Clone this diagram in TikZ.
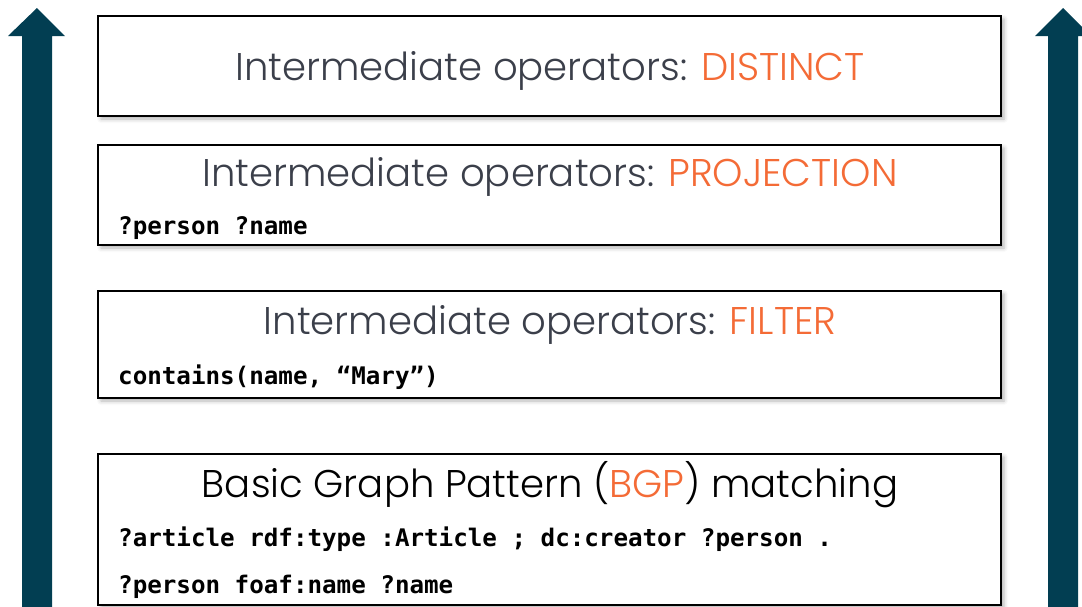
\documentclass[tikz,border=0pt]{standalone}
\usepackage{fontspec}
\setmainfont{Poppins}[UprightFont={* Light}]
\newfontfamily\codefont{DejaVu Sans Mono}[BoldFont={* Bold}]
\usetikzlibrary{shadows.blur}
\definecolor{arrowblue}{HTML}{023E52}
\definecolor{titlegray}{HTML}{3B3F4A}
\definecolor{accent}{HTML}{F46B36}
\tikzset{
  x=1pt, y=-1pt,
  layer/.style={draw=black, line width=2pt, fill=white, minimum width=903pt,
    inner sep=0pt, blur shadow={shadow xshift=3pt, shadow yshift=-3pt, shadow blur radius=4pt, shadow opacity=30}},
  title/.style={anchor=base, font=\fontsize{38.6}{40}\selectfont, text=titlegray, inner sep=0pt},
  code/.style={anchor=base west, font=\codefont\bfseries\fontsize{24.2}{26}\selectfont, inner sep=0pt},
  bigarrow/.style={fill=arrowblue}
}
\begin{document}
\begin{tikzpicture}
\useasboundingbox (0,0) rectangle (1082,606);
\clip (0,0) rectangle (1082,606);

% upward arrows on both sides
\fill[bigarrow] (37,8) -- (65,36) -- (52,36) -- (52,620) -- (22,620) -- (22,36) -- (8,36) -- cycle;
\fill[bigarrow] (1063,8) -- (1091,36) -- (1078,36) -- (1078,620) -- (1048,620) -- (1048,36) -- (1035,36) -- cycle;

% operator layers
\node[layer, minimum height=100pt] (distinct) at (549.5,66) {};
\node[layer, minimum height=100pt] (projection) at (549.5,195) {};
\node[layer, minimum height=107pt] (filter) at (549.5,344.5) {};
\node[layer, minimum height=151pt] (bgp) at (549.5,529.5) {};

% titles
\node[title] (t1) at (550,80) {Intermediate operators: \textcolor{accent}{DISTINCT}};
\node[title] (t2) at (550,186) {Intermediate operators: \textcolor{accent}{PROJECTION}};
\node[title] (t3) at (550,334) {Intermediate operators: \textcolor{accent}{FILTER}};
\node[title, text=black] (t4) at (550,497) {Basic Graph Pattern (\textcolor{accent}{BGP}) matching};

% query fragments
\node[code] (c2) at (118,234) {?person ?name};
\node[code] (c3) at (118,384) {contains(name, “Mary”)};
\node[code] (c4a) at (118,546) {?article rdf:type :Article ; dc:creator ?person .};
\node[code] (c4b) at (118,593) {?person foaf:name ?name};
\end{tikzpicture}
\end{document}
